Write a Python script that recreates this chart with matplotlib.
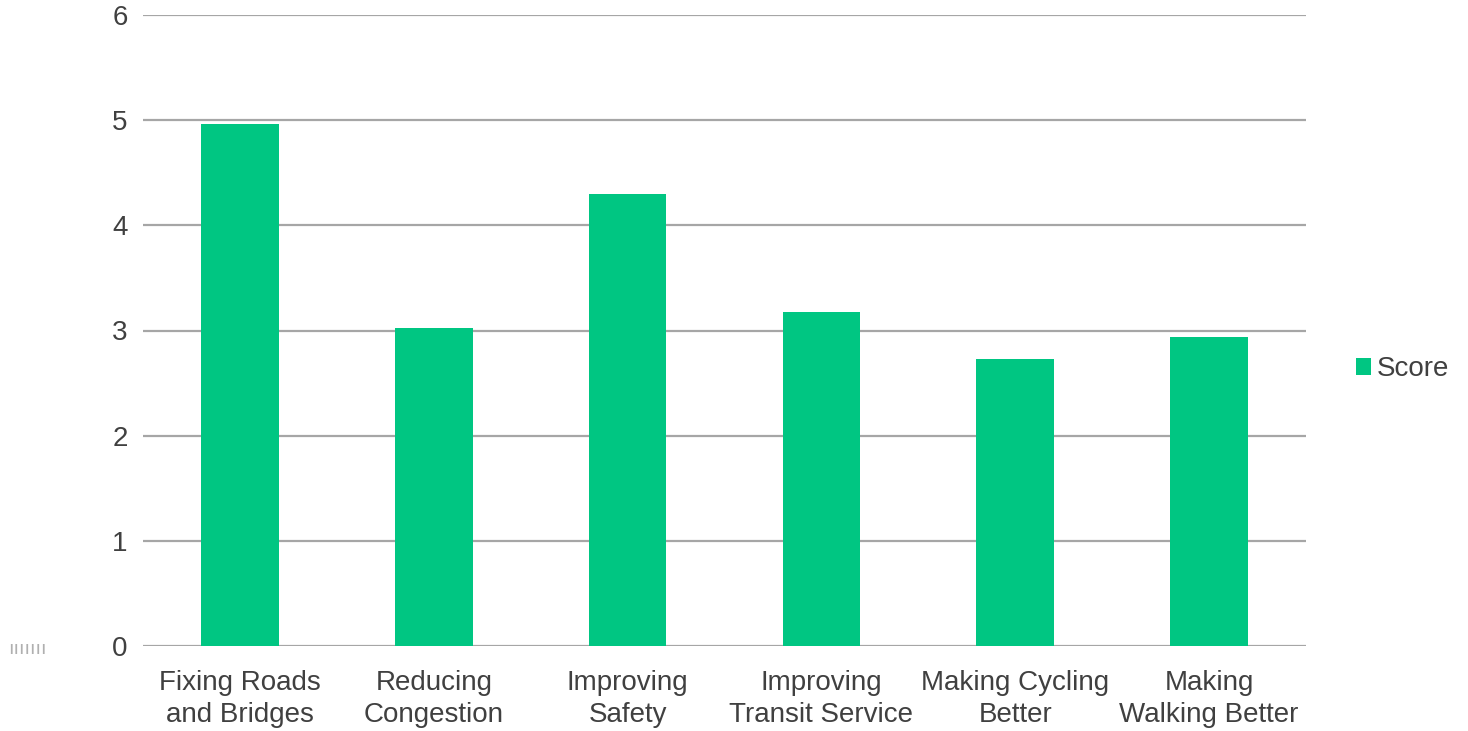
import matplotlib
matplotlib.use("Agg")
import matplotlib.pyplot as plt
from matplotlib.patches import Patch

categories = ["Fixing Roads\nand Bridges", "Reducing\nCongestion", "Improving\nSafety",
              "Improving\nTransit Service", "Making Cycling\nBetter", "Making\nWalking Better"]
scores = [4.96, 3.02, 4.30, 3.18, 2.73, 2.94]
yticks = [0, 1, 2, 3, 4, 5, 6]
series_name = "Score"

bar_color = "#00c682"
grid_color = "#a6a6a6"
text_color = "#404040"

plt.rcParams['font.family'] = ['Liberation Sans', 'DejaVu Sans']

fig = plt.figure(figsize=(14.68, 7.31), dpi=100)
ax = fig.add_axes([143/1468, 1-646/731, (1306-143)/1468, (646-15)/731])

x = list(range(len(categories)))
ax.bar(x, scores, width=0.4, color=bar_color, zorder=3)
ax.set_xlim(-0.5, len(categories)-0.5)
ax.set_ylim(0, 6)
ax.set_yticks(yticks)
ax.set_yticklabels([str(t) for t in yticks])
ax.set_xticks(x)
ax.set_xticklabels(categories, linespacing=1.32)
ax.yaxis.grid(True, color=grid_color, linewidth=1.6, zorder=0)
ax.set_axisbelow(True)
for s in ax.spines.values():
    s.set_visible(False)
ax.tick_params(axis='both', length=0, labelsize=20, colors=text_color)
ax.tick_params(axis='y', pad=11)
ax.tick_params(axis='x', pad=17)

fig.text(8/1468, 1-650/731, "ııııııı", fontsize=14, color="#b0b0b0", va='center', ha='left')

handles = [Patch(facecolor=bar_color, label=series_name)]
leg = fig.legend(handles=handles, loc='center left', bbox_to_anchor=(1356/1468, 1-369/731),
                 frameon=False, fontsize=20, handlelength=0.55, handleheight=0.55,
                 handletextpad=0.18, borderpad=0, borderaxespad=0)
for t in leg.get_texts():
    t.set_color(text_color)

fig.savefig("out.png", dpi=100)
